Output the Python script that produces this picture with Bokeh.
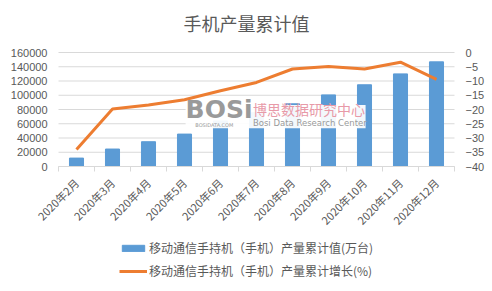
import numpy as np
from bokeh.plotting import figure
from bokeh.models import (Range1d, LinearAxis, FixedTicker, Legend, LegendItem,
                          BasicTickFormatter, BoxAnnotation, Label)
from bokeh.embed import file_html
from bokeh.resources import INLINE

months = ["2020年2月", "2020年3月", "2020年4月", "2020年5月", "2020年6月", "2020年7月",
          "2020年8月", "2020年9月", "2020年10月", "2020年11月", "2020年12月"]
output_cum = [11800, 24500, 34800, 45500, 64000, 75500, 88000, 100500, 114700, 130000, 146900]
growth_cum = [-34.0, -19.8, -18.4, -16.6, -13.4, -10.5, -5.8, -4.9, -5.8, -3.4, -9.4]
left_ticks = [0, 20000, 40000, 60000, 80000, 100000, 120000, 140000, 160000]
right_ticks = [0, -5, -10, -15, -20, -25, -30, -35, -40]

FONT = "Noto Sans CJK SC"
GRAY = "#595959"
BLUE = "#5B9BD5"
ORANGE = "#ED7D31"
GRID = "#D9D9D9"

n = len(months)
idx = list(range(n))

# Layout (pixels): value area 58..454 horizontally, 52..166 vertically; the frame
# covers more of the canvas so that tick labels, rotated labels and legend fit.
W, H_TOP = 492, 40
PX_L, PX_R = 58, 38
H_ABOVE, H_PLOT, H_EXTRA = 12, 114, 125
ppu = (W - PX_L - PX_R) / n
x_lo = -0.5 - PX_L / ppu
x_hi = n - 0.5 + PX_R / ppu
lspan = max(left_ticks) - min(left_ticks)
rspan = max(right_ticks) - min(right_ticks)
left_lo = min(left_ticks) - lspan * H_EXTRA / H_PLOT
left_hi = max(left_ticks) + lspan * H_ABOVE / H_PLOT
right_lo = min(right_ticks) - rspan * H_EXTRA / H_PLOT
right_hi = max(right_ticks) + rspan * H_ABOVE / H_PLOT

p = figure(width=W, height=291, output_backend="svg", toolbar_location=None,
           x_range=Range1d(x_lo, x_hi), y_range=Range1d(left_lo, left_hi),
           min_border_left=0, min_border_right=0, min_border_top=H_TOP, min_border_bottom=0)
p.extra_y_ranges = {"right": Range1d(right_lo, right_hi)}
p.outline_line_color = None
p.background_fill_color = "white"
p.border_fill_color = "white"

p.title.text = "手机产量累计值"
p.title.align = "center"
p.title.text_font = FONT
p.title.text_font_size = "18px"
p.title.text_font_style = "normal"
p.title.text_color = GRAY
p.title.standoff = 10

# horizontal gridlines limited to the value area
p.xgrid.grid_line_color = None
p.ygrid.grid_line_color = None
p.segment(x0=[-0.5] * len(left_ticks), x1=[n - 0.5] * len(left_ticks),
          y0=left_ticks, y1=left_ticks, line_color=GRID, line_width=1, level="underlay")

bars = p.vbar(x=idx, top=output_cum, width=0.39, color=BLUE)
line = p.line(x=idx, y=growth_cum, y_range_name="right", line_color=ORANGE, line_width=3)

# axes
xa = p.xaxis[0]
xa.fixed_location = 0
xa.bounds = (-0.5, n - 0.5)
xa.ticker = FixedTicker(ticks=idx, minor_ticks=[i - 0.5 for i in range(n + 1)])
xa.major_label_overrides = {i: m for i, m in enumerate(months)}
xa.major_label_orientation = np.pi / 4
xa.major_label_standoff = 8
xa.major_tick_line_color = None
xa.minor_tick_line_color = GRID
xa.minor_tick_out = 5
xa.minor_tick_in = 0
xa.axis_line_color = GRID
xa.major_label_text_font = FONT
xa.major_label_text_font_size = "11px"
xa.major_label_text_color = GRAY

ya = p.yaxis[0]
ya.fixed_location = -0.5
ya.ticker = FixedTicker(ticks=left_ticks)
ya.formatter = BasicTickFormatter(use_scientific=False)
ya.axis_line_color = None
ya.major_tick_line_color = None
ya.minor_tick_line_color = None
ya.major_label_text_font = "Liberation Sans"
ya.major_label_text_font_size = "11px"
ya.major_label_text_color = GRAY

ra = LinearAxis(y_range_name="right", ticker=FixedTicker(ticks=right_ticks))
ra.fixed_location = n - 0.5
ra.axis_line_color = None
ra.major_tick_line_color = None
ra.minor_tick_line_color = None
ra.major_label_text_font = "Liberation Sans"
ra.major_label_text_font_size = "11px"
ra.major_label_text_color = GRAY
p.add_layout(ra, "right")

# watermark
p.add_layout(BoxAnnotation(left=3.03, right=8.03, bottom=53800, top=86400,
                           fill_color="white", fill_alpha=0.93, line_color=None, level="overlay"))
p.add_layout(Label(x=3.03, y=59000, text="BOSi", text_font="DejaVu Sans", text_font_style="bold",
                   text_font_size="25px", text_color="#9A9A9A", level="overlay"))
p.add_layout(Label(x=3.3, y=54300, text="BOSIDATA.COM", text_font="DejaVu Sans",
                   text_font_size="5px", text_color="#9A9A9A", level="overlay"))
p.add_layout(Label(x=4.9, y=67000, text="博思数据研究中心", text_font=FONT,
                   text_font_size="14px", text_color="#E89AA8", level="overlay"))
p.add_layout(Label(x=4.9, y=54500, text="Bosi Data Research Center", text_font="DejaVu Sans",
                   text_font_size="8.5px", text_color="#9A9A9A", level="overlay"))

legend = Legend(items=[LegendItem(label="移动通信手持机（手机）产量累计值(万台)", renderers=[bars]),
                       LegendItem(label="移动通信手持机（手机）产量累计增长(%)", renderers=[line])],
                orientation="vertical", location=(119, 12))
legend.label_text_font = FONT
legend.label_text_font_size = "12px"
legend.label_text_color = GRAY
legend.border_line_color = None
legend.background_fill_alpha = 0
legend.glyph_width = 28
legend.glyph_height = 8
legend.spacing = 6
legend.label_standoff = 2
legend.padding = 2
legend.margin = 0
p.add_layout(legend, "center")

open("out.html", "w").write(file_html(p, INLINE))
